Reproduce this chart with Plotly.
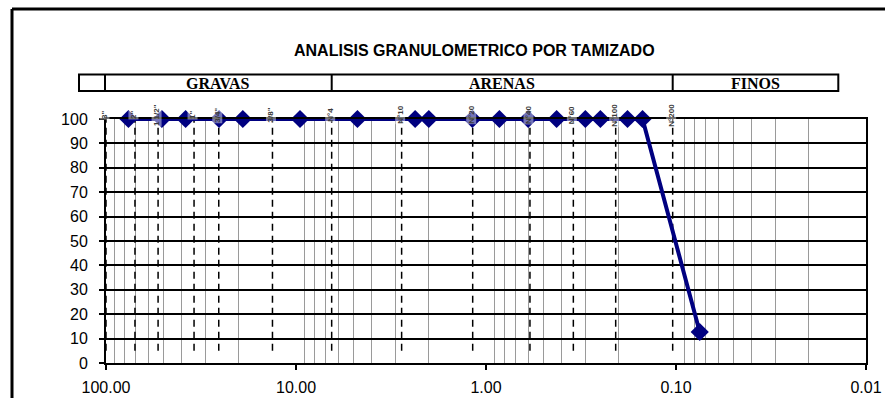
import math
import plotly.graph_objects as go

# ---- data ----
abertura_mm = [76.2, 50.8, 38.1, 25.4, 19.05, 9.525, 4.75, 2.36, 2.00, 1.18,
               0.85, 0.60, 0.425, 0.30, 0.25, 0.18, 0.15, 0.075]
pasa_pct = [100, 100, 100, 100, 100, 100, 100, 100, 100, 100,
            100, 100, 100, 100, 100, 100, 100, 12.7]

tamiz_pos = [100.0, 70.4, 53.2, 34.4, 25.5, 13.3, 6.49, 2.78, 1.175, 0.587, 0.347, 0.2077, 0.1041]
tamiz_lbl = ['3"', '2"', '1 1/2"', '1"', '3/4"', '3/8"', 'N°4', 'N°10', 'N°20', 'N°40', 'N°60', 'N°100', 'N°200']

x_ticks = [100, 10, 1, 0.1, 0.01]
x_tick_text = ['100.00', '10.00', '1.00', '0.10', '0.01']
y_ticks = [0, 10, 20, 30, 40, 50, 60, 70, 80, 90, 100]

zonas = ['GRAVAS', 'ARENAS', 'FINOS']

title = 'ANALISIS GRANULOMETRICO POR TAMIZADO'

# ---- layout geometry (pixels) ----
W, H = 885, 398
L, R, T, B = 106, 866, 119, 363
pw, ph = R - L, B - T


def px(x):
    return (x - L) / pw


def py(y):
    return (B - y) / ph


fig = go.Figure()

# dashed sieve lines
dx, dy = [], []
for v in tamiz_pos:
    dx += [v, v, None]
    dy += [5, 100, None]
fig.add_trace(go.Scatter(x=dx, y=dy, mode='lines',
                         line=dict(color='black', width=1.5, dash='7px,5px'),
                         hoverinfo='skip', showlegend=False))

# curve
fig.add_trace(go.Scatter(x=abertura_mm, y=pasa_pct, mode='lines+markers',
                         line=dict(color='#000080', width=4),
                         marker=dict(symbol='diamond', size=14, color='#000080'),
                         cliponaxis=False, showlegend=False))

minor_vals = []
for e in range(-2, 2):
    for k in range(2, 10):
        minor_vals.append(k * 10 ** e)

font_tick = dict(family='Liberation Sans, Arial', size=16, color='black')

fig.update_xaxes(type='log', range=[2, -2], tickvals=x_ticks, ticktext=x_tick_text,
                 showgrid=False, showline=True, linecolor='black', linewidth=2, mirror=True,
                 ticks='outside', ticklen=5, tickwidth=2, tickcolor='black',
                 tickfont=font_tick, ticklabelstandoff=4, zeroline=False, automargin=False,
                 minor=dict(tickvals=minor_vals, showgrid=True, gridcolor='#9a9a9a',
                            gridwidth=1, ticks=''))
fig.update_yaxes(range=[0, 100], tickvals=y_ticks, showgrid=True, gridcolor='black',
                 gridwidth=1.5, showline=True, linecolor='black', linewidth=2, mirror=True,
                 ticks='outside', ticklen=5, tickwidth=2, tickcolor='black',
                 tickfont=font_tick, ticklabelstandoff=8, zeroline=False, automargin=False)

shapes = []
# outer frame (left and top edges)
shapes.append(dict(type='line', xref='paper', yref='paper', x0=px(12), x1=px(890),
                   y0=py(9), y1=py(9), line=dict(color='black', width=3)))
shapes.append(dict(type='line', xref='paper', yref='paper', x0=px(12), x1=px(12),
                   y0=py(9), y1=py(402), line=dict(color='black', width=3)))
# header band
band_top, band_bot = 74.5, 91
band_edges = [79, 105, 331.7, 672.7, 838.3]
shapes.append(dict(type='rect', xref='paper', yref='paper', x0=px(band_edges[0]), x1=px(band_edges[-1]),
                   y0=py(band_bot), y1=py(band_top), line=dict(color='black', width=2)))
for e in band_edges[1:-1]:
    shapes.append(dict(type='line', xref='paper', yref='paper', x0=px(e), x1=px(e),
                       y0=py(band_bot), y1=py(band_top), line=dict(color='black', width=2)))

annotations = []
annotations.append(dict(text='<b>' + title + '</b>', xref='paper', yref='paper',
                        x=px(474), y=py(51), showarrow=False, xanchor='center', yanchor='middle',
                        font=dict(family='Liberation Sans, Arial', size=16, color='black')))
for i, z in enumerate(zonas):
    cx = (band_edges[i + 1] + band_edges[i + 2]) / 2
    annotations.append(dict(text='<b>' + z + '</b>', xref='paper', yref='paper',
                            x=px(cx), y=py(83), showarrow=False, xanchor='center', yanchor='middle',
                            font=dict(family='Liberation Serif, Times New Roman', size=16, color='black')))
for v, t in zip(tamiz_pos, tamiz_lbl):
    annotations.append(dict(text='<b>' + t + '</b>', xref='x', yref='paper', x=math.log10(v), y=py(115),
                            xshift=-2, showarrow=False, textangle=-90,
                            xanchor='center', yanchor='middle', borderpad=0,
                            bgcolor='rgba(255,255,255,0.45)',
                            font=dict(family='Liberation Sans, Arial', size=8, color='#3a3a3a')))

fig.update_layout(width=W, height=H, margin=dict(l=L, r=W - R, t=T, b=H - B),
                  paper_bgcolor='white', plot_bgcolor='white',
                  shapes=shapes, annotations=annotations, showlegend=False)

fig.write_html('out.html', config={'displayModeBar': False},
               post_script="document.body.style.margin='0';document.body.style.overflow='hidden';")
